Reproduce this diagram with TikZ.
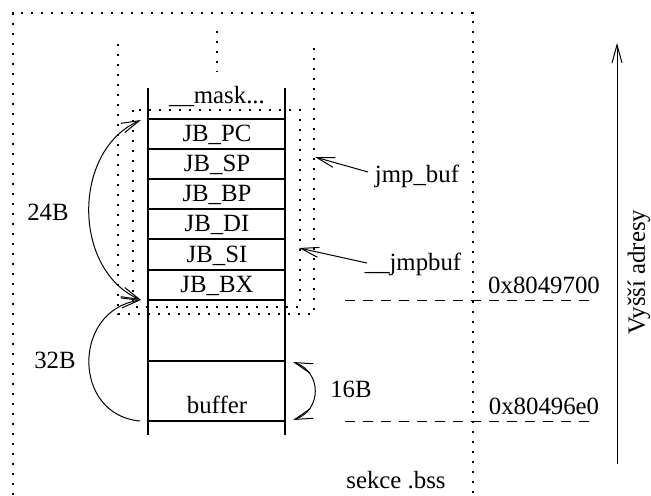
\documentclass[tikz,border=0pt]{standalone}
\usepackage{fontspec}
\setmainfont{Liberation Serif}
\usetikzlibrary{arrows.meta}
\begin{document}
\begin{tikzpicture}[
        x=0.5pt, y=-0.5pt, line width=0.5pt,
        font=\fontsize{12.4}{14}\selectfont,
        lbl/.style={anchor=base, inner sep=0},
        dots/.style={line width=0.75pt, dash pattern=on 1.2pt off 3.8pt},
        addr/.style={dash pattern=on 5pt off 4pt},
        cell/.style={line width=0.65pt},
        tip/.style={-{Straight Barb[length=9pt,width=5pt]}},
        tips/.style={{Straight Barb[length=9pt,width=5pt]}-{Straight Barb[length=9pt,width=5pt]}},
    ]
    \useasboundingbox (0,0) rectangle (651,495);
    \draw[dots] (13,495) -- (13,13) -- (473,13) -- (473,495);
    \draw[dots] (118,44) -- (118,314) -- (314,314) -- (314,43);
    \draw[dots] (133,110) rectangle (300,307);
    \draw[dots] (217,31) -- (217,72);
    \draw[cell] (148,88) -- (148,435) (285,88) -- (285,435);
    \foreach \y in {119,149,179,209,239,270,300,361,421}
        \draw[cell] (148,\y) -- (285,\y);
    \node[lbl] (M) at (217,103) {\_\_mask...};
    \foreach \n/\y in {PC/141, SP/171, BP/201, DI/231, SI/262, BX/292}
        \node[lbl] (\n) at (217,\y) {JB\_\n};
    \node[lbl] (BUF) at (217,413) {buffer};
    \coordinate (A1) at (141,120);
    \coordinate (A2) at (141,300);
    \coordinate (A3) at (140,421);
    \coordinate (B1) at (293,362);
    \coordinate (B2) at (293,420);
    \draw[tips] (A1) .. controls (72,150) and (72,270) .. (A2);
    \draw[tip] (A3) .. controls (72,415) and (72,310) .. (A2);
    \draw[tips] (B1) .. controls (322,372) and (322,410) .. (B2);
    \node[lbl] (L24) at (48,220) {24B};
    \node[lbl] (L32) at (55,368) {32B};
    \node[lbl] (L16) at (351,397) {16B};
    \node[lbl] (JB) at (417,182) {jmp\_buf};
    \coordinate (JBs) at (368,172);
    \coordinate (JBt) at (315,157);
    \draw[tip] (JBs) -- (JBt);
    \node[lbl] (JMP) at (413,270) {\_\_jmpbuf};
    \coordinate (JMs) at (367,263);
    \coordinate (JMt) at (299,248);
    \draw[tip] (JMs) -- (JMt);
    \node[lbl] (HI) at (544,293) {0x8049700};
    \node[lbl] (LO) at (544,414) {0x80496e0};
    \draw[addr] (345,300) -- (595,300) (345,421) -- (595,421);
    \node[lbl] (BSS) at (396,488) {sekce .bss};
    \coordinate (V0) at (617,464);
    \coordinate (V1) at (617,43);
    \draw[tip] (V0) -- (V1);
    \node[rotate=90] (V) at (639,272) {Vyšší adresy};
\end{tikzpicture}
\end{document}
